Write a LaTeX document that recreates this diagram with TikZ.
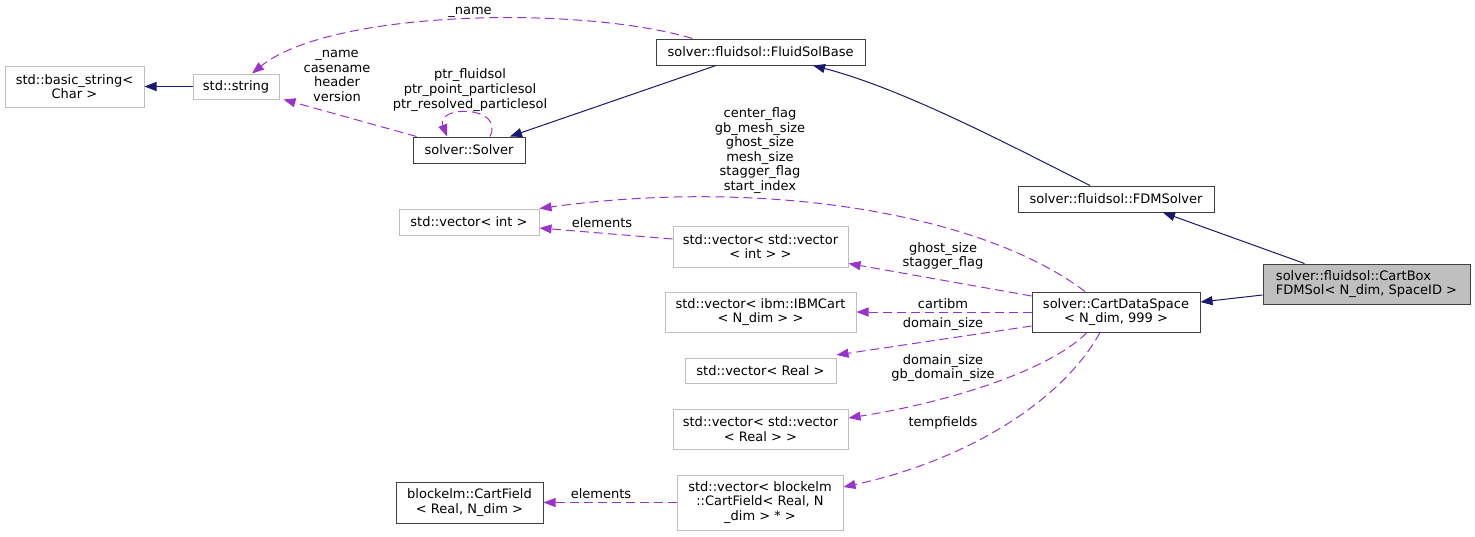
\documentclass[tikz,border=0pt]{standalone}
\usepackage{fontspec}
\setmainfont{DejaVu Sans}
\usetikzlibrary{arrows.meta}
\definecolor{navy}{HTML}{191970}
\definecolor{orch}{HTML}{9A32CD}
\definecolor{gbord}{HTML}{BFBFBF}
\definecolor{dbord}{HTML}{404040}
\definecolor{gfill}{HTML}{BFBFBF}
\begin{document}
\begin{tikzpicture}[x=1pt,y=-1pt,
  every node/.style={font=\fontsize{13}{14.6}\selectfont, inner sep=0pt, align=center, text=black},
  gbox/.style={draw=gbord, line width=1pt, fill=white},
  bbox/.style={draw=dbord, line width=1pt, fill=white},
  inh/.style={draw=navy, line width=1pt, -{Triangle[length=12pt,width=9pt]}},
  usage/.style={draw=orch, line width=1pt, dash pattern=on 9pt off 5pt, -{Triangle[length=12pt,width=9pt]}},
  lbl/.style={fill=none}]
\useasboundingbox (0,0) rectangle (1475,536);

% nodes
\node[gbox, minimum width=139pt, minimum height=41pt] (bstr) at (74.5,86.5) {std::basic\_string<\\Char >};
\node[gbox, minimum width=86pt, minimum height=25pt] (str) at (236,86.5) {std::string};
\node[bbox, minimum width=209pt, minimum height=26pt] (fsb) at (760.5,52) {solver::fluidsol::FluidSolBase};
\node[bbox, minimum width=112pt, minimum height=26pt] (solver) at (469,150) {solver::Solver};
\node[bbox, minimum width=196pt, minimum height=26pt] (fdm) at (1116,199) {solver::fluidsol::FDMSolver};
\node[bbox, fill=gfill, align=left, minimum width=207pt, minimum height=40pt] (cartbox) at (1366.5,284) {solver::fluidsol::CartBox\\FDMSol< N\_dim, SpaceID >};
\node[bbox, minimum width=168pt, minimum height=40pt] (cds) at (1116,312) {solver::CartDataSpace\\< N\_dim, 999 >};
\node[gbox, minimum width=140pt, minimum height=26pt] (vint) at (469,222) {std::vector< int >};
\node[gbox, minimum width=175pt, minimum height=41pt] (vvint) at (760.5,246.5) {std::vector< std::vector\\< int > >};
\node[gbox, minimum width=191pt, minimum height=40pt] (vibm) at (760.5,312) {std::vector< ibm::IBMCart\\< N\_dim > >};
\node[gbox, minimum width=151pt, minimum height=25pt] (vreal) at (760.5,370.5) {std::vector< Real >};
\node[gbox, minimum width=175pt, minimum height=40pt] (vvreal) at (760.5,429) {std::vector< std::vector\\< Real > >};
\node[gbox, minimum width=166pt, minimum height=55pt] (vblk) at (760,502.5) {std::vector< blockelm\\::CartField< Real, N\hspace*{12pt}\\\_dim > * >};
\node[bbox, minimum width=147pt, minimum height=41pt] (cf) at (469.5,502.5) {blockelm::CartField\\< Real, N\_dim >};

% inheritance edges
\draw[inh] (str.west) -- (bstr.east);
\draw[inh] ([xshift=-44.5pt]fsb.south) -- ([xshift=41pt]solver.north);
\draw[inh] ([xshift=-26pt]fdm.north) .. controls (1000,140) and (900,88) .. ([xshift=52.5pt]fsb.south);
\draw[inh] ([xshift=42pt]cartbox.north west) -- ([xshift=47pt]fdm.south);
\draw[inh] ([yshift=-11pt]cartbox.west) -- ([yshift=10pt]cds.east);

% usage edges
\draw[usage] ([xshift=4pt]solver.north west) -- ([xshift=4pt]str.south east);
\draw[usage] ([xshift=37pt]fsb.north west) .. controls (580,5) and (330,10) .. ([xshift=16pt]str.north);
\draw[usage] ([xshift=21pt]solver.north) .. controls (505,105) and (435,105) .. ([xshift=-22pt]solver.north);
\draw[usage] ([xshift=-31pt]cds.north) .. controls (980,212) and (760,178) .. (vint.north east);
\draw[usage] ([yshift=7.5pt]vvint.west) -- ([yshift=-6pt]vint.east);
\draw[usage] ([yshift=16pt]cds.west) -- ([yshift=4pt]vvint.south east);
\draw[usage] (cds.west) -- (vibm.east);
\draw[usage] ([yshift=-14pt]cds.west) -- ([yshift=15.5pt]vreal.east);
\draw[usage] ([xshift=-29pt]cds.south) .. controls (1050,370) and (950,402) .. ([yshift=11pt]vvreal.east);
\draw[usage] ([xshift=-16pt]cds.south) .. controls (1060,405) and (960,462) .. ([yshift=15.5pt]vblk.east);
\draw[usage] (vblk.west) -- (cf.east);

% labels
\node[lbl] (l1) at (470,12) {\_name};
\node[lbl] (l2) at (337,76) {\_name\\casename\\header\\version};
\node[lbl] (l3) at (470,90) {ptr\_fluidsol\\ptr\_point\_particlesol\\ptr\_resolved\_particlesol};
\node[lbl] (l4) at (760,150.5) {center\_flag\\gb\_mesh\_size\\ghost\_size\\mesh\_size\\stagger\_flag\\start\_index};
\node[lbl] (l5) at (602,223) {elements};
\node[lbl] (l6) at (943,256) {ghost\_size\\stagger\_flag};
\node[lbl] (l7) at (943,304) {cartibm};
\node[lbl] (l8) at (943,324) {domain\_size};
\node[lbl] (l9) at (943,368) {domain\_size\\gb\_domain\_size};
\node[lbl] (l10) at (943,423) {tempfields};
\node[lbl] (l11) at (601,494) {elements};
\end{tikzpicture}
\end{document}
